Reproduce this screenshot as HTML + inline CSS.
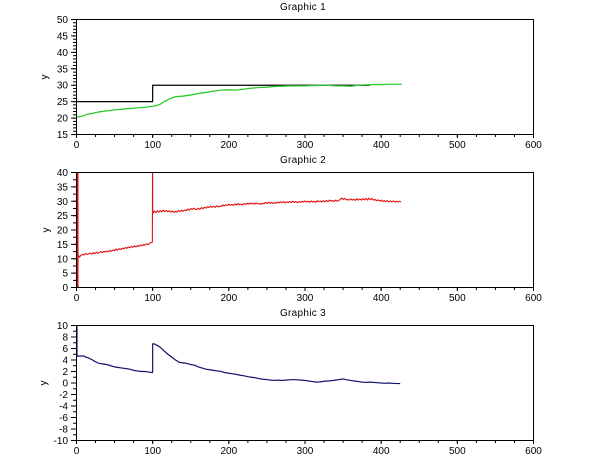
<!DOCTYPE html>
<html><head><meta charset="utf-8"><style>
html,body{margin:0;padding:0;background:#fff;}
svg{display:block;}
text{font-family:"Liberation Sans",Arial,sans-serif;font-size:10px;fill:#000;}
.ln{fill:none;vector-effect:non-scaling-stroke;stroke-linejoin:round;}
</style></head><body>
<svg width="610" height="460" viewBox="0 0 610 460" xmlns="http://www.w3.org/2000/svg">
<rect width="610" height="460" fill="#fff"/>

<!-- ===== Plot 1 ===== -->
<text x="303" y="10" text-anchor="middle" letter-spacing="0.3">Graphic 1</text>
<g transform="translate(76.5,134.5) scale(0.76167,-3.2857) translate(0,-15)">
<path class="ln" stroke="#000" stroke-width="1.2" d="M0 25H100V30H385"/>
<path class="ln" stroke="#2ccb2c" stroke-width="1.3" d="M0 20.3L3 20.4L8 20.6L12 21 20 21.4 30 21.9 40 22.2 50 22.5 60 22.7 70 22.9 80 23.1 90 23.3 100 23.6 105 23.8 110 24.2 115 25 120 25.6 125 26.1 130 26.5 140 26.7 150 27 160 27.5 170 27.8 180 28.2 190 28.5 200 28.6 210 28.5 220 28.8 230 29.1 240 29.3 250 29.4 260 29.6 270 29.7 280 29.8 290 29.8 300 29.8 310 29.9 320 30 330 30 340 29.8 350 29.8 360 29.7 370 30 380 30.1 390 30.2 400 30.2 410 30.3 427 30.3"/>
</g>
<rect x="76.5" y="19.5" width="457" height="115" fill="none" stroke="#000" stroke-width="1"/>
<line x1="74.5" y1="135" x2="74.5" y2="19" stroke="#000" stroke-width="3" stroke-dasharray="1 2.2857"/>
<line x1="73.5" y1="135" x2="73.5" y2="19" stroke="#000" stroke-width="5" stroke-dasharray="1 15.4286"/>
<line x1="76" y1="136" x2="534" y2="136" stroke="#000" stroke-width="2" stroke-dasharray="1 18.0417"/>
<line x1="76" y1="136.5" x2="534" y2="136.5" stroke="#000" stroke-width="3" stroke-dasharray="1 75.1667"/>
<g text-anchor="end">
<text x="68" y="23">50</text><text x="68" y="39.4">45</text><text x="68" y="55.9">40</text><text x="68" y="72.3">35</text><text x="68" y="88.7">30</text><text x="68" y="105.1">25</text><text x="68" y="121.6">20</text><text x="68" y="138">15</text>
</g>
<g text-anchor="middle">
<text x="76.5" y="148">0</text><text x="152.7" y="148">100</text><text x="228.8" y="148">200</text><text x="305" y="148">300</text><text x="381.2" y="148">400</text><text x="457.3" y="148">500</text><text x="533.5" y="148">600</text>
</g>
<text transform="translate(47.5,77) rotate(-90)" text-anchor="middle">y</text>

<!-- ===== Plot 2 ===== -->
<text x="303" y="163" text-anchor="middle" letter-spacing="0.3">Graphic 2</text>
<line x1="77.5" y1="287.5" x2="77.5" y2="172.5" stroke="#d80c0c" stroke-width="2"/>
<g transform="translate(76.5,287.5) scale(0.76167,-2.875)">
<path class="ln" stroke="#e01010" stroke-width="1.1" d="M0 9.5L1 10.5 2 10.2 3 11 4 10.6 6 11.2 8 11.5 10 11.3 12 11.8 14 11.5 16 11.7 18 12 20 11.6 22 12.1 24 11.8 26 12.3 28 11.9 30 12.2 32 12.5 34 12.1 36 12.6 38 12.3 40 12.7 42 12.4 44 12.9 46 12.6 48 13.1 50 12.8 52 13.4 54 13 56 13.5 58 13.2 60 13.7 62 13.4 64 13.9 66 13.6 68 14.1 70 13.8 72 14.3 74 14 76 14.5 78 14.1 80 14.6 82 14.3 84 14.8 86 14.5 88 15 90 14.7 92 15.2 94 14.9 96 15.4 98 15.6 99.6 15.8 99.8 40 100 40 100 25.8 102 26.6 104 26 106 26.7 108 26.2 110 26.8 112 26.3 114 26.9 116 26.4 118 26.8 120 26.3 122 26.7 124 26.2 126 26.6 128 26.1 130 26.5 132 26.2 134 26.8 136 26.4 138 26.9 140 26.5 142 27 144 26.7 146 27.3 148 26.9 150 27.5 152 27.1 154 27.6 156 27.2 158 27.1 160 27.6 162 27.2 164 27.8 166 27.4 168 27.9 170 27.6 172 28.1 174 27.8 176 28.3 178 27.9 180 28.2 182 27.9 184 28.4 186 28 188 28.3 190 28.2 192 28.7 194 28.3 196 28.8 198 28.5 200 29 202 28.6 204 28.9 206 28.5 208 29.1 210 28.7 212 29.2 214 28.8 216 29 218 28.7 220 29.2 222 28.9 224 29.3 226 29 228 29.4 230 29.1 232 29.3 234 29 236 29.4 238 29.1 240 29.2 242 28.9 244 29.3 246 29.1 248 29.6 250 29.2 252 29.7 254 29.3 256 29.6 258 29.2 260 29.6 262 29.3 264 29.7 266 29.4 268 29.8 270 29.5 272 29.9 274 29.4 276 29.8 278 29.5 280 29.9 282 29.6 284 30 286 29.6 288 29.9 290 29.5 292 29.9 294 29.6 296 30 298 29.7 300 30.1 302 29.7 304 30 306 29.6 308 30.1 310 29.7 312 30 314 29.6 316 30.2 318 29.8 320 30.1 322 29.7 324 30.2 326 29.8 328 30.3 330 29.9 332 30.4 334 30 336 30.3 338 29.9 340 30.4 342 30 344 30.2 346 30.6 348 31.1 350 30.6 352 31 354 30.5 356 30.6 358 30.4 360 30.8 362 30.4 364 30.7 366 30.3 368 30.9 370 30.4 372 30.8 374 30.4 376 30.9 378 30.5 380 31 382 30.4 384 31.1 386 30.5 388 31 390 30.4 392 30.6 394 30.2 396 30.5 398 30.1 400 30.4 402 29.9 404 30.3 406 29.9 408 30.2 410 29.8 412 30.1 414 29.8 416 30.1 418 29.7 420 30 422 29.7 424 30 426 29.8"/>
</g>
<rect x="76.5" y="172.5" width="457" height="115" fill="none" stroke="#000" stroke-width="1"/>
<line x1="74.5" y1="288" x2="74.5" y2="172" stroke="#000" stroke-width="3" stroke-dasharray="1 6.1875"/>
<line x1="73.5" y1="288" x2="73.5" y2="172" stroke="#000" stroke-width="5" stroke-dasharray="1 13.375"/>
<line x1="76" y1="289" x2="534" y2="289" stroke="#000" stroke-width="2" stroke-dasharray="1 18.0417"/>
<line x1="76" y1="289.5" x2="534" y2="289.5" stroke="#000" stroke-width="3" stroke-dasharray="1 75.1667"/>
<g text-anchor="end">
<text x="68" y="176">40</text><text x="68" y="190.4">35</text><text x="68" y="204.8">30</text><text x="68" y="219.1">25</text><text x="68" y="233.5">20</text><text x="68" y="247.9">15</text><text x="68" y="262.3">10</text><text x="68" y="276.6">5</text><text x="68" y="291">0</text>
</g>
<g text-anchor="middle">
<text x="76.5" y="301">0</text><text x="152.7" y="301">100</text><text x="228.8" y="301">200</text><text x="305" y="301">300</text><text x="381.2" y="301">400</text><text x="457.3" y="301">500</text><text x="533.5" y="301">600</text>
</g>
<text transform="translate(49,230) rotate(-90)" text-anchor="middle">y</text>

<!-- ===== Plot 3 ===== -->
<text x="303" y="316" text-anchor="middle" letter-spacing="0.3">Graphic 3</text>
<g transform="translate(76.5,383) scale(0.76167,-5.75)">
<path class="ln" stroke="#12126e" stroke-width="1.2" d="M0.6 10V4.6L2 4.7 10 4.7 12 4.5 15 4.4 18 4.2 20 4.1 22 3.9 25 3.7 28 3.5 30 3.4 35 3.3 40 3.2 45 3 50 2.8 55 2.7 60 2.6 65 2.5 70 2.4 75 2.2 80 2.1 85 2 90 2 95 1.9 99.5 1.8 100 1.9 100 6.8 102 6.8 105 6.6 108 6.4 110 6.2 115 5.6 120 5 125 4.5 130 4 135 3.6 140 3.5 145 3.4 150 3.2 155 3.1 160 2.8 165 2.6 170 2.4 175 2.3 180 2.2 185 2.1 190 2 195 1.8 200 1.7 205 1.6 210 1.5 215 1.35 220 1.25 225 1.1 230 1 235 0.9 240 0.75 245 0.65 250 0.6 255 0.5 260 0.45 265 0.5 270 0.45 275 0.5 280 0.55 285 0.6 290 0.55 295 0.5 300 0.45 305 0.35 310 0.25 315 0.15 320 0.2 325 0.3 330 0.35 335 0.4 340 0.5 345 0.6 350 0.7 355 0.55 360 0.45 365 0.35 370 0.25 375 0.15 380 0.1 385 0.15 390 0.1 395 0.05 400 0 405 -0.05 410 0 415 -0.05 420 -0.1 425 -0.1"/>
</g>
<rect x="76.5" y="325.5" width="457" height="115" fill="none" stroke="#000" stroke-width="1"/>
<line x1="74.5" y1="441" x2="74.5" y2="325" stroke="#000" stroke-width="3" stroke-dasharray="1 4.75"/>
<line x1="73.5" y1="441" x2="73.5" y2="325" stroke="#000" stroke-width="5" stroke-dasharray="1 10.5"/>
<line x1="76" y1="442" x2="534" y2="442" stroke="#000" stroke-width="2" stroke-dasharray="1 18.0417"/>
<line x1="76" y1="442.5" x2="534" y2="442.5" stroke="#000" stroke-width="3" stroke-dasharray="1 75.1667"/>
<g text-anchor="end">
<text x="68" y="329">10</text><text x="68" y="340.5">8</text><text x="68" y="352">6</text><text x="68" y="363.5">4</text><text x="68" y="375">2</text><text x="68" y="386.5">0</text><text x="68" y="398">-2</text><text x="68" y="409.5">-4</text><text x="68" y="421">-6</text><text x="68" y="432.5">-8</text><text x="68" y="444">-10</text>
</g>
<g text-anchor="middle">
<text x="76.5" y="454">0</text><text x="152.7" y="454">100</text><text x="228.8" y="454">200</text><text x="305" y="454">300</text><text x="381.2" y="454">400</text><text x="457.3" y="454">500</text><text x="533.5" y="454">600</text>
</g>
<text transform="translate(46.5,383) rotate(-90)" text-anchor="middle">y</text>
</svg>
</body></html>
